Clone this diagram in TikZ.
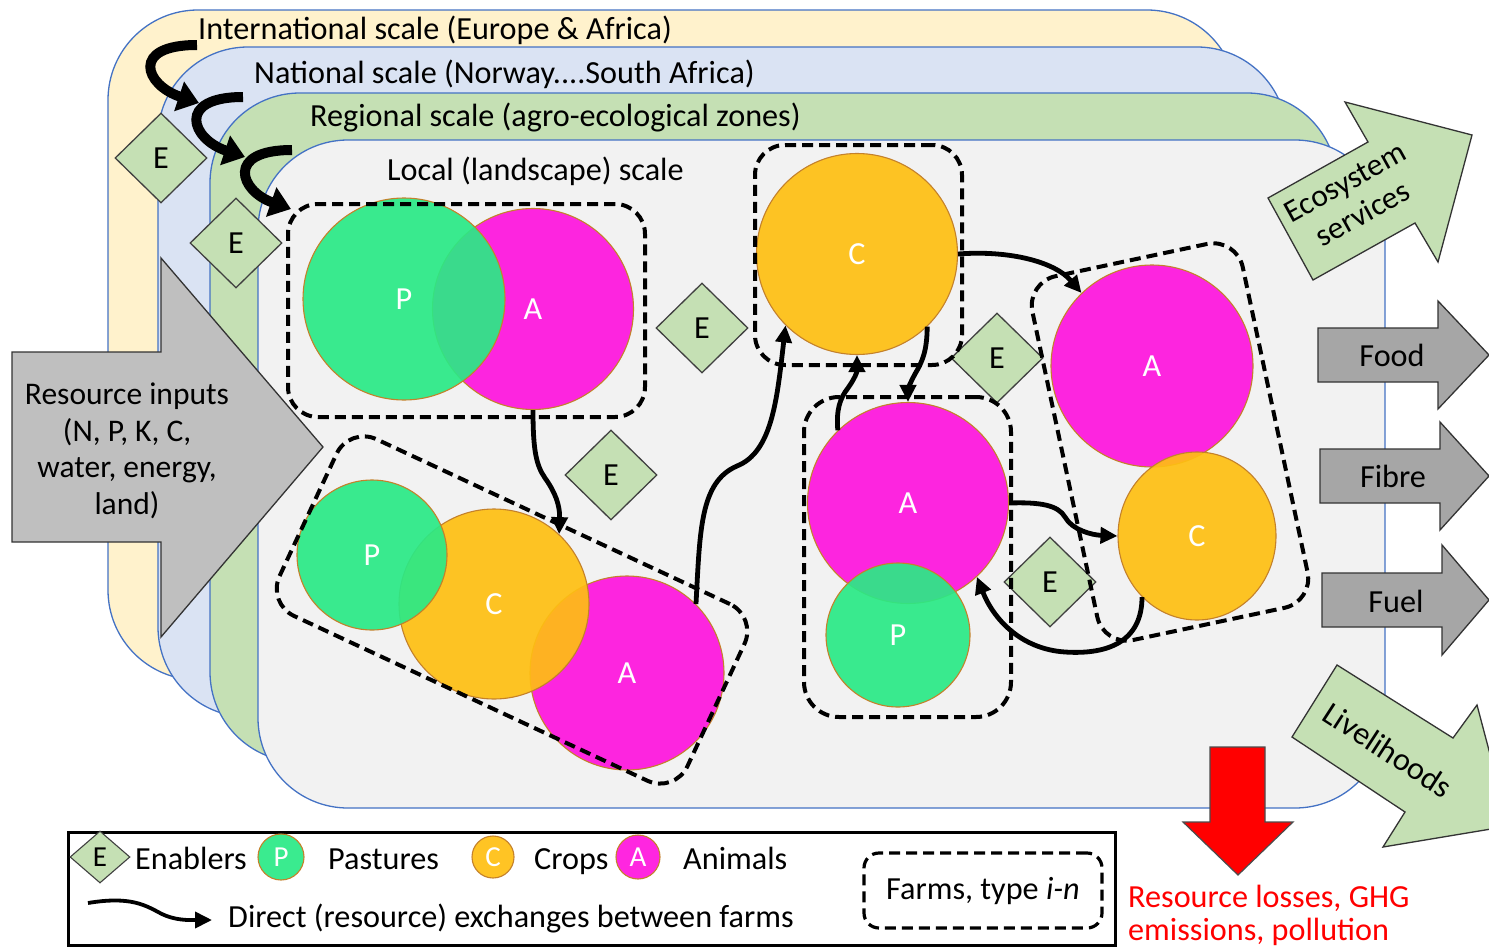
\documentclass[tikz,border=0pt]{standalone}
\usepackage{fontspec}
\setmainfont{Carlito}
\usetikzlibrary{shapes.geometric, arrows.meta}

\definecolor{lyY}{HTML}{FFF2CC}
\definecolor{lyB}{HTML}{DAE3F3}
\definecolor{lyG}{HTML}{C5E0B4}
\definecolor{lyL}{HTML}{F2F2F2}
\definecolor{lyLine}{HTML}{4472C4}
\definecolor{cP}{HTML}{2AEA86}
\definecolor{cA}{HTML}{FF14DE}
\definecolor{cC}{HTML}{FFBF12}
\definecolor{cEdge}{HTML}{C4812B}
\definecolor{grayIn}{HTML}{BFBFBF}
\definecolor{grayOut}{HTML}{A6A6A6}
\definecolor{enab}{HTML}{C5E0B4}

\begin{document}
\begin{tikzpicture}[x=1pt,y=-1pt,
  every node/.style={inner sep=0pt, font=\fontsize{32.2}{37}\selectfont},
  layer/.style={draw=lyLine, line width=1.3pt, rounded corners=90pt},
  circ/.style={circle, draw=cEdge, line width=1.1pt, fill opacity=0.92, text opacity=1, text=white},
  enabler/.style={diamond, draw=black!75, line width=1.3pt, fill=enab, minimum width=92pt, minimum height=90pt},
  farm/.style={draw=black, line width=4pt, dash pattern=on 11pt off 6pt, rounded corners=30pt},
  flow/.style={line width=4.8pt, -{Triangle[length=17pt,width=16pt]}},
  scalearrow/.style={line width=10pt, -{Triangle[length=21pt,width=30pt]}},
  bigarrow/.style={draw=black!80, line width=1.3pt},
]
\useasboundingbox (0,0) rectangle (1489,948);
\clip (0,0) rectangle (1489,948);
\fill[white] (0,0) rectangle (1489,948);

% scale layers
\draw[layer, fill=lyY] (108,10) rectangle (1237,680);
\draw[layer, fill=lyB] (158,47) rectangle (1287,717);
\draw[layer, fill=lyG] (210,93) rectangle (1337,762);
\draw[layer, fill=lyL] (258,140) rectangle (1385,808);

\node[anchor=base west] (tInt) at (198,39) {International scale (Europe \& Africa)};
\node[anchor=base west] (tNat) at (254,83) {National scale (Norway....South Africa)};
\node[anchor=base west] (tReg) at (310,126) {Regional scale (agro-ecological zones)};
\node[anchor=base west] (tLoc) at (387,180) {Local (landscape) scale};

% resource inputs
\draw[bigarrow, fill=grayIn] (12,352) -- (161,352) -- (161,258) -- (323,447) -- (161,637) -- (161,542) -- (12,542) -- cycle;
\node[align=center, font=\fontsize{31.5}{36.5}\selectfont] (tRes) at (127,451) {Resource inputs\\(N, P, K, C,\\water, energy,\\land)};

% scale arrows
\coordinate (s1a) at (197,45); \coordinate (s1b) at (199,103);
\coordinate (s2a) at (243,97); \coordinate (s2b) at (245,157);
\coordinate (s3a) at (292,150); \coordinate (s3b) at (291,209);
\draw[scalearrow] (s1a) .. controls (130,45) and (145,85) .. (s1b);
\draw[scalearrow] (s2a) .. controls (176,97) and (191,139) .. (s2b);
\draw[scalearrow] (s3a) .. controls (225,150) and (240,191) .. (s3b);

% enablers
\node[enabler] (E1) at (161,158) {E};
\node[enabler] (E2) at (236,243) {E};
\node[enabler] (E3) at (702,328) {E};
\node[enabler] (E4) at (611,475) {E};
\node[enabler] (E5) at (997,358) {E};
\node[enabler] (E6) at (1050,582) {E};

% circles
\node[circ, fill=cA, minimum size=201pt] (A1) at (533,309) {A};
\node[circ, fill=cP, minimum size=202pt] (P1) at (404,299) {P};

\node[circ, fill=cA, minimum size=194pt] (A2) at (627,673) {A};
\node[circ, fill=cC, minimum size=190pt] (C2) at (494,604) {C};
\node[circ, fill=cP, minimum size=150pt] (P2) at (372,555) {P};

\node[circ, fill=cC, minimum size=201pt] (C3) at (857,254) {C};

\node[circ, fill=cA, minimum size=201pt] (A4) at (908,503) {A};
\node[circ, fill=cP, minimum size=144pt] (P4) at (898,635) {P};

\node[circ, fill=cA, minimum size=202pt] (A5) at (1152,366) {A};
\node[circ, ellipse, fill=cC, minimum width=158pt, minimum height=168pt] (C5) at (1197,536) {C};

% farms
\node[farm, minimum width=357pt, minimum height=213pt] (F1) at (466.5,310.5) {};
\node[farm, minimum width=450pt, minimum height=195pt, rotate=-25] (F2) at (512,610) {};
\node[farm, minimum width=207pt, minimum height=220pt] (F3) at (858.5,255) {};
\node[farm, minimum width=207pt, minimum height=320pt, rounded corners=35pt] (F4) at (907.5,557) {};
\node[farm, minimum width=215pt, minimum height=372pt, rotate=12] (F5) at (1170,442) {};

% exchanges
\draw[flow] (A1.south) .. controls (533,450) and (536,465) .. (545,478) .. controls (555,492) and (560,505) .. (C2.47);
\draw[flow] (A2.45) .. controls (700,530) and (700,482) .. (737,466) .. controls (772,452) and (777,400) .. (C3.225);
\draw[flow] (A4.134) .. controls (836,410) and (840,398) .. (848,388) .. controls (855,378) and (857,372) .. (C3.south);
\draw[flow] (C3.314) .. controls (927,352) and (922,362) .. (915,374) .. controls (909,385) and (908,390) .. (A4.north);
\draw[flow] (C3.east) .. controls (1010,250) and (1055,262) .. (A5.134);
\draw[flow] (A4.east) .. controls (1040,502) and (1058,505) .. (1065,517) .. controls (1072,530) and (1092,535) .. (C5.west);
\draw[flow] (C5.228) .. controls (1142,640) and (1110,655) .. (1065,652) .. controls (1020,649) and (993,618) .. (A4.313);

% outputs
\draw[bigarrow, fill=enab] (1268,198) -- (1368,142) -- (1345,102) -- (1472,135) -- (1438,262) -- (1415,223) -- (1313,280) -- cycle;
\node[rotate=29, align=center, font=\fontsize{31.5}{36}\selectfont] (tEco) at (1354,198) {Ecosystem\\services};

\draw[bigarrow, fill=grayOut] (1318,328) -- (1438,328) -- (1438,301) -- (1489,355) -- (1438,409) -- (1438,382) -- (1318,382) -- cycle;
\node (tFood) at (1392,355) {Food};
\draw[bigarrow, fill=grayOut] (1320,449) -- (1440,449) -- (1440,422) -- (1489,476) -- (1440,530) -- (1440,503) -- (1320,503) -- cycle;
\node (tFibre) at (1393,476) {Fibre};
\draw[bigarrow, fill=grayOut] (1322,573) -- (1442,573) -- (1442,545) -- (1489,600) -- (1442,655) -- (1442,627) -- (1322,627) -- cycle;
\node (tFuel) at (1396,601) {Fuel};

\draw[bigarrow, fill=enab] (1292,737) -- (1337,665) -- (1453,738) -- (1477,705) -- (1509,826) -- (1383,847) -- (1405,812) -- cycle;
\node[rotate=-33] (tLive) at (1388,750) {Livelihoods};

\draw[draw=black!70, line width=1.2pt, fill=red] (1210,747) -- (1265,747) -- (1265,822) -- (1293,822) -- (1238,875) -- (1183,822) -- (1210,822) -- cycle;
\node[anchor=base west, text=red] (tLoss1) at (1128,907) {Resource losses, GHG};
\node[anchor=base west, text=red] (tLoss2) at (1128,940) {emissions, pollution};

% legend
\draw[line width=3pt] (68,832) rectangle (1115,945);
\node[enabler, minimum width=60pt, minimum height=52pt, line width=1.1pt, font=\fontsize{29}{32}\selectfont] (LE) at (100,857) {E};
\node[anchor=base west] (tEnab) at (135,869) {Enablers};
\node[circ, fill=cP, minimum size=46pt, font=\fontsize{29}{32}\selectfont] (LP) at (281,857) {P};
\node[anchor=base west] (tPast) at (328,869) {Pastures};
\node[circ, fill=cC, minimum size=42pt, font=\fontsize{29}{32}\selectfont] (LC) at (493,857) {C};
\node[anchor=base west] (tCrop) at (534,869) {Crops};
\node[circ, fill=cA, minimum size=44pt, font=\fontsize{29}{32}\selectfont] (LA) at (638,857) {A};
\node[anchor=base west] (tAnim) at (683,869) {Animals};
\coordinate (lgs) at (88,903); \coordinate (lge) at (212,920);
\draw[flow, line width=3.8pt] (lgs) .. controls (130,896) and (145,905) .. (160,913) .. controls (175,921) and (190,920) .. (lge);
\node[anchor=base west] (tDir) at (228,927) {Direct (resource) exchanges between farms};
\node[farm, line width=3.2pt, rounded corners=15pt, minimum width=238pt, minimum height=75pt] (LF) at (983,890.5) {};
\node (tFarm) at (983,891) {Farms, type \textit{i-n}};
\end{tikzpicture}
\end{document}
